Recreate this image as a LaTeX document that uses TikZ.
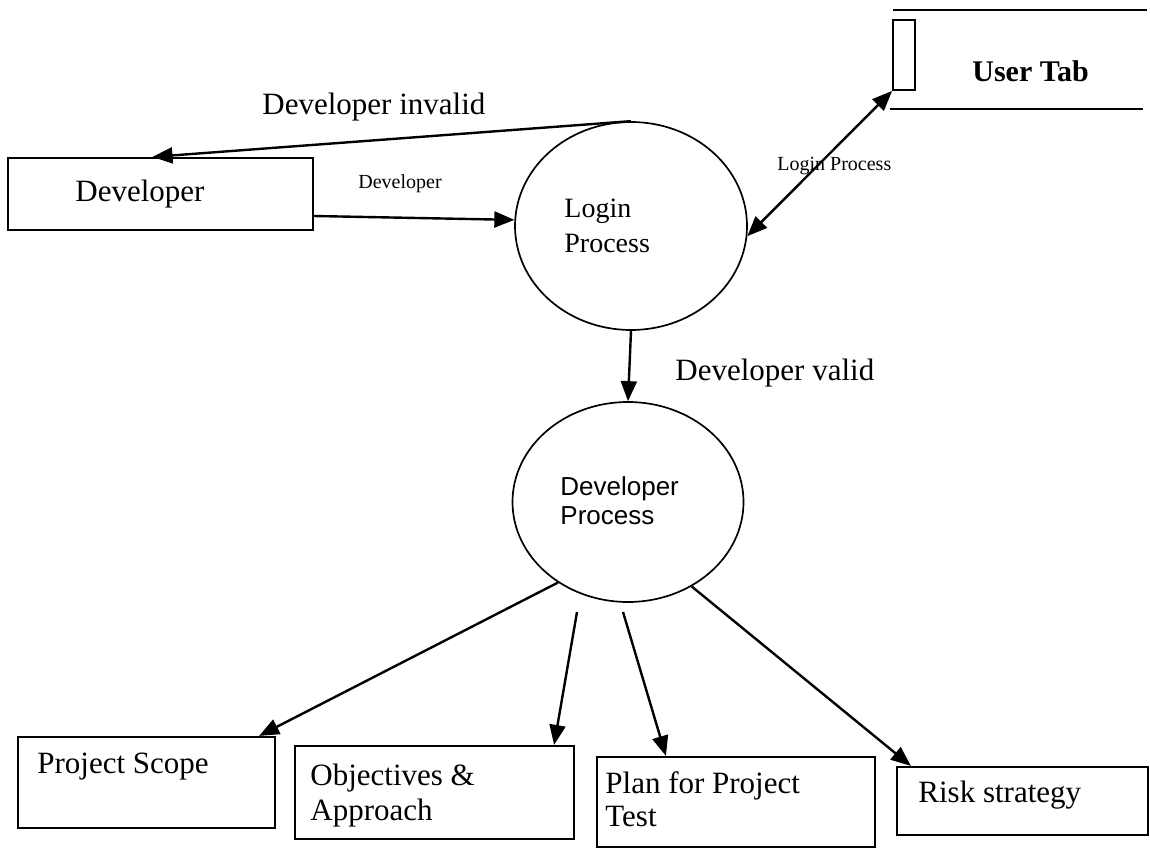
\documentclass[tikz,border=0pt]{standalone}
\usepackage{fontspec}
\setmainfont{Liberation Serif}
\setsansfont{Liberation Sans}
\usetikzlibrary{arrows.meta,shapes.geometric}
\begin{document}
\begin{tikzpicture}[x=0.5pt,y=-0.5pt,
  box/.style={draw, line width=1.1pt, inner sep=0pt},
  proc/.style={draw, ellipse, line width=0.85pt, inner sep=0pt},
  tip/.style={Triangle[length=10pt,width=8pt]},
  flow/.style={line width=1.2pt, -{Triangle[length=10pt,width=8pt]}},
  big/.style={font=\fontsize{15.5}{17.5}\selectfont, inner sep=0pt, align=left},
  small/.style={font=\fontsize{10}{12}\selectfont, inner sep=0pt},
]
\fill[white] (0,0) rectangle (1150,850);
\useasboundingbox (0,0) rectangle (1150,850);

% external entity
\node[box, minimum width=152.5pt, minimum height=36pt] (dev) at (160.5,194) {};
\node[big, anchor=base west] (devtxt) at (75,202) {Developer};

% processes
\node[proc, minimum width=116pt, minimum height=104pt] (login) at (631,226) {};
\node[font=\fontsize{14}{17.5}\selectfont, inner sep=0pt, align=left, anchor=north west]
  (logintxt) at (564,199) {Login\\Process};

\node[proc, minimum width=115.5pt, minimum height=100pt] (devproc) at (628,502) {};
\node[font=\sffamily\fontsize{13}{14.5}\selectfont, inner sep=0pt, align=left, anchor=north west]
  (devproctxt) at (560,476) {Developer\\Process};

% data store
\node[box, line width=0.9pt, minimum width=11pt, minimum height=35pt] (utbox) at (904,55) {};
\draw[line width=1.1pt] (893,10) -- (1147,10);
\draw[line width=1.1pt] (890,109) -- (1143,109);
\node[font=\bfseries\fontsize{15}{18}\selectfont, inner sep=0pt, anchor=base west]
  (uttxt) at (972,82) {User Tab};

% output boxes
\node[box, minimum width=128.5pt, minimum height=45.5pt] (ps) at (146.5,782.5) {};
\node[big, anchor=base west] (pstxt) at (37,773) {Project Scope};

\node[box, minimum width=139.5pt, minimum height=46.5pt] (obj) at (434.5,792.5) {};
\node[big, anchor=north west] (objtxt) at (310,764) {Objectives \&\\Approach};

\node[box, minimum width=139pt, minimum height=45pt] (plan) at (736,802) {};
\node[big, font=\fontsize{15.5}{16.5}\selectfont, anchor=north west] (plantxt) at (605,771) {Plan for Project\\Test};

\node[box, minimum width=125.5pt, minimum height=34pt] (risk) at (1022.5,801) {};
\node[big, anchor=base west] (risktxt) at (918,802) {Risk strategy};

% flow labels
\node[big, anchor=base west] (invtxt) at (262,115) {Developer invalid};
\node[small, anchor=base west] (devlbl) at (358,189) {Developer};
\node[small, anchor=base west] (loginlbl) at (777,171) {Login Process};
\node[big, anchor=base west] (validtxt) at (675,380) {Developer valid};

% flows
\coordinate (s2) at (577,612);
\coordinate (s3) at (623,612);

\draw[flow] (login.north) -- ([xshift=-4pt]dev.north);
\draw[flow] ([yshift=-11pt]dev.east) -- (login.177);
\draw[line width=1.2pt, {Triangle[length=10pt,width=8pt]}-{Triangle[length=10pt,width=8pt]}]
  (login.-5) -- (utbox.south west);
\draw[flow] (login.south) -- (devproc.north);
\draw[flow] (devproc.229) -- ([xshift=-8.5pt]ps.north east);
\draw[flow] (s2) -- ([xshift=-10.5pt]obj.north east);
\draw[flow] (s3) -- ([xshift=35pt]plan.north west);
\draw[flow] (devproc.-53) -- ([xshift=7.5pt]risk.north west);
\end{tikzpicture}
\end{document}
